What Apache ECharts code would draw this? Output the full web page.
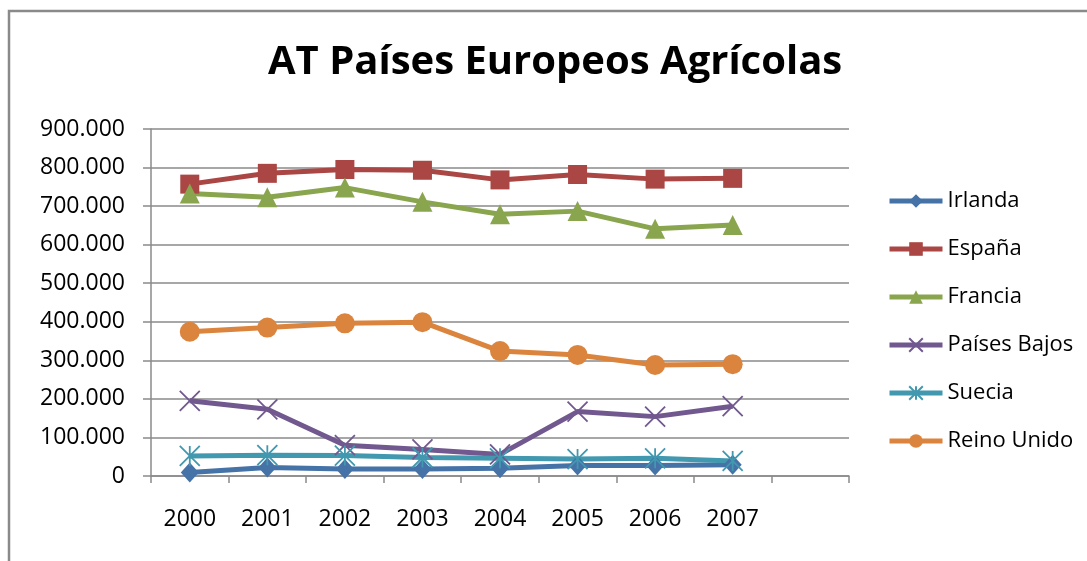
<!DOCTYPE html>
<html>
<head>
<meta charset="utf-8">
<script src="https://cdn.jsdelivr.net/npm/echarts@6/dist/echarts.min.js"></script>
<style>html,body{margin:0;padding:0;background:#fff}#c{width:1087px;height:561px}</style>
</head>
<body>
<div id="c"></div>
<script>
const titleText = 'AT Países Europeos Agrícolas';
const years = ['2000','2001','2002','2003','2004','2005','2006','2007',''];
const irlanda = [9000, 22000, 18000, 18000, 20000, 27000, 27000, 29000];
const espana = [757000, 785000, 795000, 793000, 768000, 782000, 770000, 772000];
const francia = [733000, 723000, 748000, 711000, 679000, 687000, 641000, 651000];
const paisesBajos = [195000, 173000, 80000, 69000, 56000, 167000, 154000, 181000];
const suecia = [52000, 54000, 53000, 48000, 46000, 44000, 46000, 39000];
const reinoUnido = [374000, 385000, 396000, 399000, 324000, 314000, 288000, 290000];

const FONT = '"Open Sans", "Noto Sans", sans-serif';
const GRID = '#8a8a8a';

function fmt(v){ return v === 0 ? '0' : String(v).replace(/\B(?=(\d{3})+(?!\d))/g, '.'); }

function mk(name, data, color, symbol, size, extra) {
  return Object.assign({
    name, type: 'line', data,
    symbol, symbolSize: size,
    lineStyle: { color, width: 5 },
    itemStyle: { color },
    emphasis: { disabled: true },
    animation: false
  }, extra || {});
}

const chart = echarts.init(document.getElementById('c'), null, { renderer: 'canvas' });
chart.setOption({
  backgroundColor: '#fff',
  animation: false,
  title: {
    text: titleText, left: 263, top: 38,
    textStyle: { fontFamily: FONT, fontSize: 40, fontWeight: 'bold', color: '#000' }
  },
  graphic: [{
    type: 'rect', shape: { x: 9, y: 11, width: 1200, height: 700 },
    style: { fill: 'none', stroke: '#8a8a8a', lineWidth: 2.5 }, silent: true, z: -1
  }],
  legend: {
    orient: 'vertical', left: 882, top: 185,
    itemWidth: 53, itemHeight: 17, itemGap: 26,
    lineStyle: { width: 5 },
    textStyle: { fontFamily: FONT, fontSize: 22, color: '#000' },
    data: ['Irlanda','España','Francia','Países Bajos','Suecia','Reino Unido']
  },
  grid: { left: 151, right: 238, top: 129, bottom: 85 },
  xAxis: {
    type: 'category', data: years, boundaryGap: true,
    axisLine: { lineStyle: { color: GRID, width: 1.5 } },
    axisTick: { show: true, length: 7, lineStyle: { color: GRID, width: 1.5 }, alignWithLabel: false, interval: 0 },
    axisLabel: { fontFamily: FONT, fontSize: 23, color: '#000', margin: 32, interval: 0 }
  },
  yAxis: {
    type: 'value', min: 0, max: 900000, interval: 100000,
    axisLine: { show: true, lineStyle: { color: GRID, width: 1.5 } },
    axisTick: { show: true, length: 8, lineStyle: { color: GRID, width: 1.5 } },
    splitLine: { lineStyle: { color: GRID, width: 1.5 } },
    axisLabel: { fontFamily: FONT, fontSize: 23, color: '#000', margin: 26, formatter: fmt }
  },
  series: [
    mk('Irlanda', irlanda, '#4572A7', 'diamond', [18, 20]),
    mk('España', espana, '#AA4643', 'rect', 19),
    mk('Francia', francia, '#89A54E', 'triangle', 20),
    mk('Países Bajos', paisesBajos, '#71588F', 'path://M0,0L10,10M10,0L0,10', 20,
       { itemStyle: { color: '#71588F', borderColor: '#71588F', borderWidth: 1.8 } }),
    mk('Suecia', suecia, '#4198AF', 'path://M5,0L5,10M0,0L10,10M10,0L0,10', 20,
       { itemStyle: { color: '#4198AF', borderColor: '#4198AF', borderWidth: 1.8 } }),
    mk('Reino Unido', reinoUnido, '#DB843D', 'circle', 20)
  ]
});
</script>
</body>
</html>
